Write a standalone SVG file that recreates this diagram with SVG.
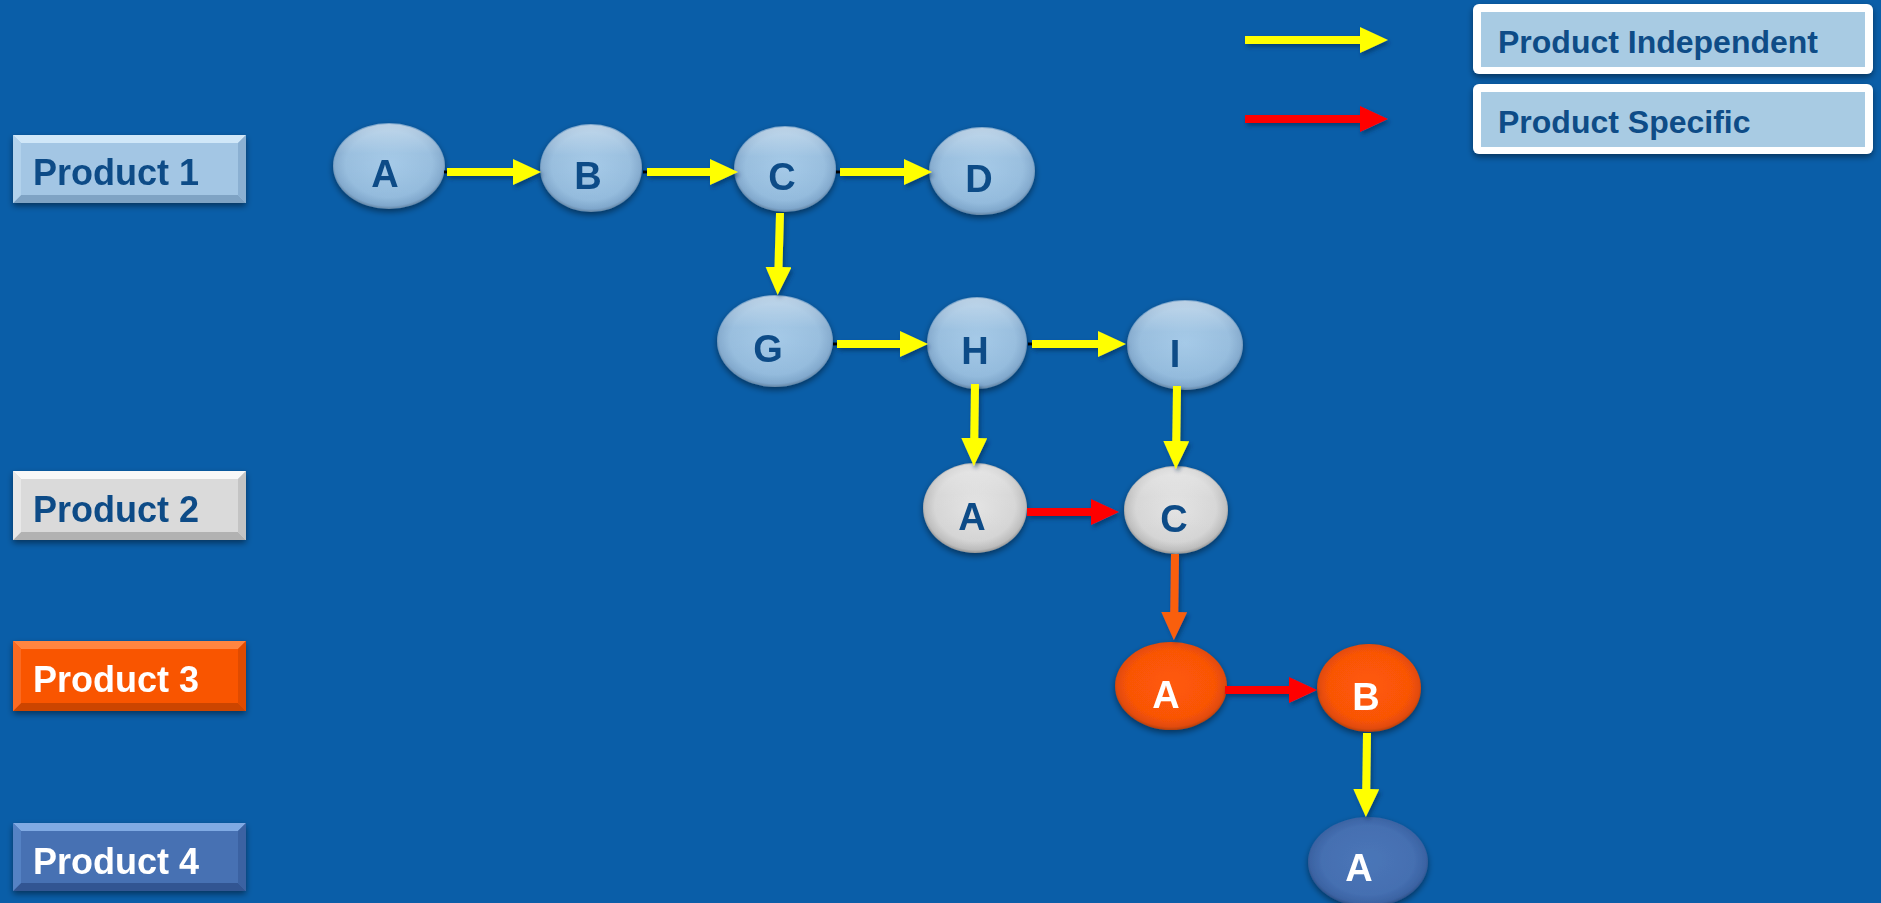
<svg xmlns="http://www.w3.org/2000/svg" width="1881" height="903" viewBox="0 0 1881 903">
<defs>
<style>
.lbl{font-family:"Liberation Sans",Arial,sans-serif;font-weight:bold;font-size:36px}
.nt{font-family:"Liberation Sans",Arial,sans-serif;font-weight:bold;font-size:38px;text-anchor:middle}
.dark{fill:#0e4c87}
.white{fill:#ffffff}
.leg{font-family:"Liberation Sans",Arial,sans-serif;font-weight:bold;font-size:32px;fill:#0e4c87}
.y{stroke:#ffff00;stroke-width:8;fill:none}
.r{stroke:#ff0000;stroke-width:8;fill:none}
.o{stroke:#f95e10;stroke-width:8;fill:none}
.tick{stroke:#000;stroke-width:3}
</style>
<filter id="sh" x="-20%" y="-20%" width="140%" height="150%">
<feDropShadow dx="0" dy="3" stdDeviation="3" flood-color="#000" flood-opacity="0.45"/>
</filter>
<filter id="ash" x="-10%" y="-50%" width="120%" height="200%">
<feDropShadow dx="2" dy="3" stdDeviation="2" flood-color="#002a55" flood-opacity="0.6"/>
</filter>
<radialGradient id="gBlue" cx="50%" cy="48%" r="55%">
<stop offset="0" stop-color="#9fc6e6"/>
<stop offset="0.7" stop-color="#92badc"/>
<stop offset="0.88" stop-color="#7fa7cc"/>
<stop offset="1" stop-color="#4e6a85"/>
</radialGradient>
<radialGradient id="gGrey" cx="50%" cy="48%" r="55%">
<stop offset="0" stop-color="#e2e2e2"/>
<stop offset="0.7" stop-color="#d4d4d4"/>
<stop offset="0.88" stop-color="#bcbcbc"/>
<stop offset="1" stop-color="#737373"/>
</radialGradient>
<radialGradient id="gOrange" cx="50%" cy="48%" r="55%">
<stop offset="0" stop-color="#ff5a08"/>
<stop offset="0.7" stop-color="#f95406"/>
<stop offset="0.88" stop-color="#e24b08"/>
<stop offset="1" stop-color="#8a3410"/>
</radialGradient>
<radialGradient id="gDblue" cx="50%" cy="48%" r="55%">
<stop offset="0" stop-color="#4a76b8"/>
<stop offset="0.7" stop-color="#456fb1"/>
<stop offset="0.88" stop-color="#3b63a3"/>
<stop offset="1" stop-color="#23406f"/>
</radialGradient>
<linearGradient id="gloss" x1="0" y1="0" x2="0" y2="1">
<stop offset="0" stop-color="#ffffff" stop-opacity="0.45"/>
<stop offset="0.35" stop-color="#ffffff" stop-opacity="0.08"/>
<stop offset="1" stop-color="#ffffff" stop-opacity="0"/>
</linearGradient>
<marker id="mY" markerUnits="userSpaceOnUse" markerWidth="28" markerHeight="26" refX="16" refY="13" orient="auto"><path d="M0,0 L28,13 L0,26 z" fill="#ffff00"/></marker>
<marker id="mR" markerUnits="userSpaceOnUse" markerWidth="28" markerHeight="26" refX="16" refY="13" orient="auto"><path d="M0,0 L28,13 L0,26 z" fill="#ff0000"/></marker>
<marker id="mO" markerUnits="userSpaceOnUse" markerWidth="28" markerHeight="26" refX="16" refY="13" orient="auto"><path d="M0,0 L28,13 L0,26 z" fill="#f95e10"/></marker>
</defs>
<rect x="0" y="0" width="1881" height="903" fill="#0a5ea8"/>

<!-- Product label boxes -->
<g id="label-p1" filter="url(#sh)">
<rect x="13" y="135" width="233" height="68" fill="#a3c6e4"/>
<polygon points="13,135 246,135 238,143 21,143" fill="#d0e7f8"/>
<polygon points="13,203 246,203 238,195 21,195" fill="#7fa3c4"/>
<polygon points="13,135 21,143 21,195 13,203" fill="#b2d2ec"/>
<polygon points="246,135 238,143 238,195 246,203" fill="#8bb0d2"/>
<text class="lbl dark" x="33" y="185">Product 1</text>
</g>
<g id="label-p2" filter="url(#sh)">
<rect x="13" y="471" width="233" height="69" fill="#dadada"/>
<polygon points="13,471 246,471 238,479 21,479" fill="#f8f8f8"/>
<polygon points="13,540 246,540 238,532 21,532" fill="#b2b2b2"/>
<polygon points="13,471 21,479 21,532 13,540" fill="#e8e8e8"/>
<polygon points="246,471 238,479 238,532 246,540" fill="#c4c4c4"/>
<text class="lbl dark" x="33" y="522">Product 2</text>
</g>
<g id="label-p3" filter="url(#sh)">
<rect x="13" y="641" width="233" height="70" fill="#f95405"/>
<polygon points="13,641 246,641 238,649 21,649" fill="#ff8540"/>
<polygon points="13,711 246,711 238,703 21,703" fill="#cc4406"/>
<polygon points="13,641 21,649 21,703 13,711" fill="#fb6a20"/>
<polygon points="246,641 238,649 238,703 246,711" fill="#e04c06"/>
<text class="lbl white" x="33" y="692">Product 3</text>
</g>
<g id="label-p4" filter="url(#sh)">
<rect x="13" y="823" width="233" height="68" fill="#4671b3"/>
<polygon points="13,823 246,823 238,831 21,831" fill="#80aae3"/>
<polygon points="13,891 246,891 238,883 21,883" fill="#305592"/>
<polygon points="13,823 21,831 21,883 13,891" fill="#5582c4"/>
<polygon points="246,823 238,831 238,883 246,891" fill="#3a62a2"/>
<text class="lbl white" x="33" y="874">Product 4</text>
</g>

<!-- Legend -->
<g id="legend-independent">
<rect x="1473" y="4" width="400" height="70" rx="6" fill="#ffffff" filter="url(#sh)"/>
<rect x="1481" y="12" width="384" height="55" fill="#a8cbe3"/>
<text class="leg" x="1498" y="53">Product Independent</text>
</g>
<g id="legend-specific">
<rect x="1473" y="84" width="400" height="70" rx="6" fill="#ffffff" filter="url(#sh)"/>
<rect x="1481" y="92" width="384" height="55" fill="#a8cbe3"/>
<text class="leg" x="1498" y="133">Product Specific</text>
</g>

<!-- Nodes -->
<g id="p1-A" filter="url(#sh)"><ellipse cx="389" cy="166" rx="56" ry="43" fill="url(#gBlue)"/><ellipse cx="389" cy="166" rx="55" ry="42" fill="url(#gloss)"/><text class="nt dark" x="385" y="187">A</text></g>
<g id="p1-B" filter="url(#sh)"><ellipse cx="591" cy="168" rx="51" ry="44" fill="url(#gBlue)"/><ellipse cx="591" cy="168" rx="50" ry="43" fill="url(#gloss)"/><text class="nt dark" x="588" y="189">B</text></g>
<g id="p1-C" filter="url(#sh)"><ellipse cx="785" cy="169" rx="51" ry="43" fill="url(#gBlue)"/><ellipse cx="785" cy="169" rx="50" ry="42" fill="url(#gloss)"/><text class="nt dark" x="782" y="190">C</text></g>
<g id="p1-D" filter="url(#sh)"><ellipse cx="982" cy="171" rx="53" ry="44" fill="url(#gBlue)"/><ellipse cx="982" cy="171" rx="52" ry="43" fill="url(#gloss)"/><text class="nt dark" x="979" y="192">D</text></g>
<g id="p1-G" filter="url(#sh)"><ellipse cx="775" cy="341" rx="58" ry="46" fill="url(#gBlue)"/><ellipse cx="775" cy="341" rx="57" ry="45" fill="url(#gloss)"/><text class="nt dark" x="768" y="362">G</text></g>
<g id="p1-H" filter="url(#sh)"><ellipse cx="977" cy="343" rx="50" ry="46" fill="url(#gBlue)"/><ellipse cx="977" cy="343" rx="49" ry="45" fill="url(#gloss)"/><text class="nt dark" x="975" y="364">H</text></g>
<g id="p1-I" filter="url(#sh)"><ellipse cx="1185" cy="345" rx="58" ry="45" fill="url(#gBlue)"/><ellipse cx="1185" cy="345" rx="57" ry="44" fill="url(#gloss)"/><text class="nt dark" x="1175" y="367">I</text></g>
<g id="p2-A" filter="url(#sh)"><ellipse cx="975" cy="508" rx="52" ry="45" fill="url(#gGrey)"/><ellipse cx="975" cy="508" rx="51" ry="44" fill="url(#gloss)"/><text class="nt dark" x="972" y="530">A</text></g>
<g id="p2-C" filter="url(#sh)"><ellipse cx="1176" cy="510" rx="52" ry="44" fill="url(#gGrey)"/><ellipse cx="1176" cy="510" rx="51" ry="43" fill="url(#gloss)"/><text class="nt dark" x="1174" y="532">C</text></g>
<g id="p3-A" filter="url(#sh)"><ellipse cx="1171" cy="686" rx="56" ry="44" fill="url(#gOrange)"/><text class="nt white" x="1166" y="708">A</text></g>
<g id="p3-B" filter="url(#sh)"><ellipse cx="1369" cy="688" rx="52" ry="44" fill="url(#gOrange)"/><text class="nt white" x="1366" y="710">B</text></g>
<g id="p4-A" filter="url(#sh)"><ellipse cx="1368" cy="862" rx="60" ry="45" fill="url(#gDblue)"/><text class="nt white" x="1359" y="881">A</text></g>

<!-- Connectors -->
<g id="connectors" filter="url(#ash)">
<line class="tick" x1="444" y1="172" x2="448" y2="172"/>
<line class="tick" x1="643" y1="172" x2="647" y2="172"/>
<line class="tick" x1="836" y1="172" x2="840" y2="172"/>
<line class="tick" x1="833" y1="344" x2="837" y2="344"/>
<line class="tick" x1="1028" y1="344" x2="1032" y2="344"/>
<line class="y" x1="447" y1="172" x2="529" y2="172" marker-end="url(#mY)"/>
<line class="y" x1="647" y1="172" x2="726" y2="172" marker-end="url(#mY)"/>
<line class="y" x1="840" y1="172" x2="920" y2="172" marker-end="url(#mY)"/>
<line class="y" x1="780" y1="213" x2="778" y2="283" marker-end="url(#mY)"/>
<line class="y" x1="837" y1="344" x2="916" y2="344" marker-end="url(#mY)"/>
<line class="y" x1="1032" y1="344" x2="1114" y2="344" marker-end="url(#mY)"/>
<line class="y" x1="975" y1="384" x2="974" y2="454" marker-end="url(#mY)"/>
<line class="y" x1="1177" y1="386" x2="1176" y2="457" marker-end="url(#mY)"/>
<line class="r" x1="1027" y1="512" x2="1107" y2="512" marker-end="url(#mR)"/>
<line class="o" x1="1175" y1="554" x2="1174" y2="628" marker-end="url(#mO)"/>
<line class="r" x1="1225" y1="690" x2="1305" y2="690" marker-end="url(#mR)"/>
<line class="y" x1="1367" y1="733" x2="1366" y2="805" marker-end="url(#mY)"/>
<line class="y" x1="1245" y1="40" x2="1376" y2="40" marker-end="url(#mY)"/>
<line class="r" x1="1245" y1="119" x2="1376" y2="119" marker-end="url(#mR)"/>
</g>
</svg>
